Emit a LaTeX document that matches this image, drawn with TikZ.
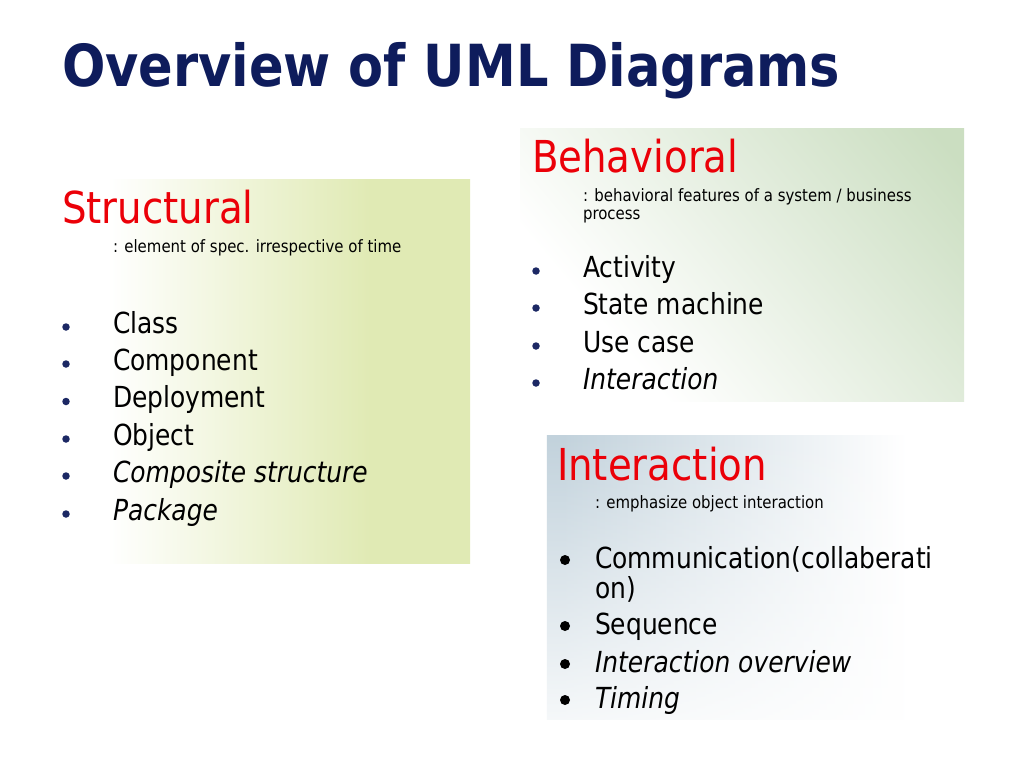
\documentclass[tikz,border=0pt]{standalone}
\usepackage{fontspec}
\usetikzlibrary{fadings}
\setmainfont{DejaVu Sans}[FakeStretch=0.88]
\newfontfamily\itemfont{DejaVu Sans}[FakeStretch=0.86]
\definecolor{navy}{RGB}{14,28,92}
\definecolor{hred}{RGB}{235,0,8}
\definecolor{dotc}{RGB}{28,40,100}
\definecolor{strc}{RGB}{224,234,180}
\definecolor{behc}{RGB}{203,222,193}
\definecolor{intc}{RGB}{194,210,220}
\pgfdeclarehorizontalshading{structsh}{100bp}{color(0bp)=(white); color(28bp)=(white); color(62bp)=(strc); color(100bp)=(strc)}
\pgfdeclarehorizontalshading{behsh}{100bp}{color(0bp)=(white); color(30bp)=(white); color(82bp)=(behc); color(100bp)=(behc)}
\pgfdeclarehorizontalshading{intsh}{100bp}{color(0bp)=(intc); color(27bp)=(intc); color(72bp)=(white); color(100bp)=(white)}
\tikzfading[name=intfade, top color=transparent!0, middle color=transparent!15, bottom color=transparent!85]
\begin{document}
\begin{tikzpicture}[x=1pt,y=-1pt,
  txt/.style={anchor=base west, inner sep=0pt, outer sep=0pt},
  ttl/.style={txt, text=navy, font=\fontsize{58}{64}\selectfont\bfseries},
  head/.style={txt, text=hred, font=\fontsize{44}{50}\selectfont},
  sub/.style={txt, font=\fontsize{17}{18}\selectfont},
  item/.style={txt, font=\itemfont\fontsize{29}{35}\selectfont},
  itemi/.style={item, font=\itemfont\fontsize{29}{35}\selectfont\itshape},
  dot/.style={circle, fill=dotc, draw=none, inner sep=0pt, minimum size=7.5pt},
  bdot/.style={circle, fill=black, draw=none, inner sep=0pt, minimum size=10pt}]
\useasboundingbox (0,0) rectangle (1024,768);
\fill[white] (0,0) rectangle (1024,768);
% boxes
\shade[shading=structsh] (85,179) rectangle (470,563);
\shade[shading=behsh, shading angle=40] (520,128) rectangle (964,401);
\shade[shading=intsh, path fading=intfade] (547,436) rectangle (930,720);
% title
\node[ttl] (title) at (62,86) {Overview of UML Diagrams};
% structural
\node[head] (sh) at (62,223) {Structural};
\node[sub] (ss) at (113,252) {: element of spec. irrespective of time};
\node[item] (s1) at (113,333) {Class};
\node[item] (s2) at (113,370) {Component};
\node[item] (s3) at (113,407.5) {Deployment};
\node[item] (s4) at (113,445) {Object};
\node[itemi] (s5) at (113,482) {Composite structure};
\node[itemi] (s6) at (113,520) {Package};
\foreach \y [count=\i] in {327,364,401.5,439,476,514} \node[dot] (sd\i) at (66,\y) {};
% behavioral
\node[head] (bh) at (532,172) {Behavioral};
\node[sub] (bs1) at (583,201) {: behavioral features of a system / business};
\node[sub] (bs2) at (583,219) {process};
\node[item] (b1) at (583,277) {Activity};
\node[item] (b2) at (583,314) {State machine};
\node[item] (b3) at (583,352) {Use case};
\node[itemi] (b4) at (583,389) {Interaction};
\foreach \y [count=\i] in {271,308,346,383} \node[dot] (bd\i) at (536,\y) {};
% interaction
\node[head] (ih) at (557,480) {Interaction};
\node[sub] (is) at (595,508) {: emphasize object interaction};
\node[item] (i1) at (595,568) {Communication(collaberati};
\node[item] (i1b) at (595,598) {on)};
\node[item] (i2) at (595,634) {Sequence};
\node[itemi] (i3) at (595,672) {Interaction overview};
\node[itemi] (i4) at (595,708) {Timing};
\foreach \y [count=\i] in {560,626,664,700} \node[bdot] (id\i) at (565,\y) {};
\end{tikzpicture}
\end{document}
